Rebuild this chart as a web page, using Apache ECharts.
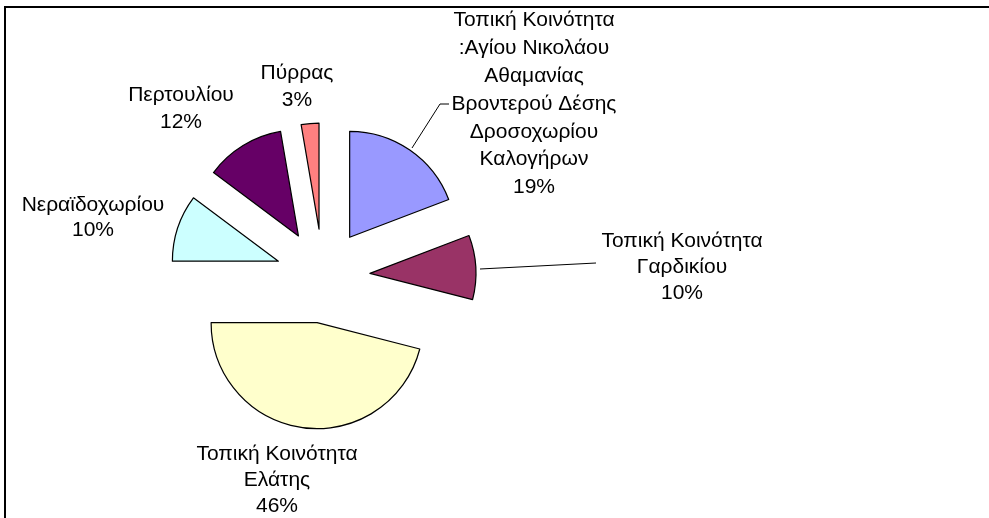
<!DOCTYPE html>
<html>
<head>
<meta charset="utf-8">
<script src="https://cdn.jsdelivr.net/npm/echarts@6/dist/echarts.min.js"></script>
<style>
	html, body { margin: 0; padding: 0; background: #fff; }
	#chart { width: 989px; height: 518px; }
</style>
</head>
<body>
<div id="chart"></div>
<script>
// categories (clockwise from 12 o'clock) and their shares
var categories = [
	'Τοπική Κοινότητα\n:Αγίου Νικολάου\nΑθαμανίας\nΒροντερού Δέσης\nΔροσοχωρίου\nΚαλογήρων',
	'Τοπική Κοινότητα\nΓαρδικίου',
	'Τοπική Κοινότητα\nΕλάτης',
	'Νεραϊδοχωρίου',
	'Περτουλίου',
	'Πύρρας'
];
var values = [19.2, 9.8, 46, 10.2, 12.1, 2.7];
var colors = ['#9999FF', '#993366', '#FFFFCC', '#CCFFFF', '#660066', '#FF8080'];

// label block centres and leader lines
var labelPos = [[534, 104], [682, 267], [277, 480], [93, 218], [181, 109], [297, 87]];
var lineHeights = [27.8, 26, 26, 25, 27, 27];
var leaders = {
	0: [[412, 148], [440, 104], [449, 104]],
	1: [[480, 269], [596, 263]]
};

var pieCenter = [323, 276];
var pieRadius = 106;
var explode = 47;

var myChart = echarts.init(document.getElementById('chart'));

var total = 0;
for (var i = 0; i < values.length; i++) total += values[i];

// one pie per slice, each pushed out along its own middle angle
var series = [];
var cum = 0;
for (var i = 0; i < values.length; i++) {
	var mid = (cum + values[i] / 2) / total * Math.PI * 2;
	cum += values[i];
	var data = [];
	for (var j = 0; j < values.length; j++) {
		if (j == i) {
			data.push({
				name: categories[j],
				value: values[j],
				itemStyle: { color: colors[j], borderColor: '#000', borderWidth: 1.2 }
			});
		} else {
			data.push({
				name: categories[j],
				value: values[j],
				itemStyle: { color: 'rgba(0,0,0,0)', borderWidth: 0 },
				label: { show: false },
				labelLine: { show: false }
			});
		}
	}
	series.push({
		type: 'pie',
		center: [pieCenter[0] + explode * Math.sin(mid), pieCenter[1] - explode * Math.cos(mid)],
		radius: pieRadius,
		startAngle: 90,
		clockwise: true,
		avoidLabelOverlap: false,
		minShowLabelAngle: 0,
		silent: true,
		emphasis: { disabled: true },
		label: {
			show: true,
			position: 'outside',
			color: '#000',
			fontFamily: 'Liberation Sans, Arial, sans-serif',
			fontSize: 21,
			lineHeight: lineHeights[i],
			align: 'center',
			formatter: function (p) {
				return p.name + '\n' + Math.round(p.percent) + '%';
			}
		},
		labelLine: {
			show: leaders[i] != null,
			lineStyle: { color: '#000', width: 1 },
			length: 10,
			length2: 10
		},
		labelLayout: (function (idx) {
			return function (p) {
				if (p.dataIndex != idx) return {};
				var res = {
					x: labelPos[idx][0],
					y: labelPos[idx][1],
					align: 'center',
					verticalAlign: 'middle'
				};
				if (leaders[idx]) res.labelLinePoints = leaders[idx];
				return res;
			};
		})(i),
		data: data
	});
}

var option = {
	animation: false,
	graphic: [{
		type: 'rect',
		shape: { x: 5, y: 7, width: 1100, height: 700 },
		style: { fill: 'none', stroke: '#000', lineWidth: 2 },
		silent: true
	}],
	series: series
};

myChart.setOption(option);
</script>
</body>
</html>
